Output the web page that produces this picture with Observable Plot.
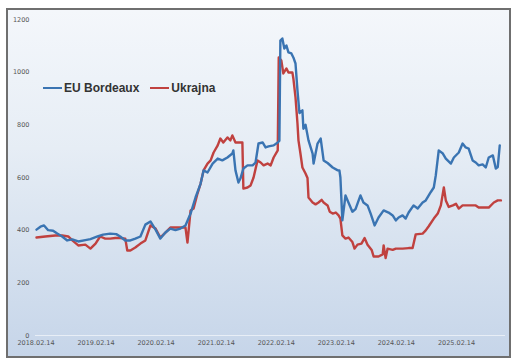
<!DOCTYPE html>
<html>
<head>
<meta charset="utf-8">
<script src="https://cdn.jsdelivr.net/npm/d3@7"></script>
<script src="https://cdn.jsdelivr.net/npm/@observablehq/plot@0.6"></script>
<style>
  body { margin: 0; background: #fff; }
  #wrap { position: relative; width: 515px; height: 363px; }
  #box { position: absolute; left: 6px; top: 8px; width: 501px; height: 346px;
         border: 2px solid #6f6f6f;
         background: linear-gradient(to bottom, #f4f7fb 0%, #e6edf5 40%, #d3dfee 75%, #c6d5e9 100%); }
  #chart { position: absolute; left: 0; top: 0; }
  #legend { position: absolute; left: 43px; top: 81px; font: bold 12px "Liberation Sans", Arial, sans-serif; color: #333; display: flex; align-items: center; }
  #legend .sw { display: inline-block; width: 19px; height: 2.5px; margin-right: 2px; }
  #legend .item { display: flex; align-items: center; margin-right: 11px; }
</style>
</head>
<body>
<div id="wrap">
  <div id="box"></div>
  <div id="chart"></div>
  <div id="legend"></div>
</div>
<script>
const seriesNames = ["EU Bordeaux", "Ukrajna"];
const seriesColors = ["#3a74b2", "#c0413f"];

const euDates = ["2018-02-17","2018-03-13","2018-04-04","2018-04-29","2018-05-29","2018-06-23","2018-07-23","2018-08-23","2018-09-23","2018-10-29","2018-12-11","2019-01-11","2019-02-23","2019-03-29","2019-05-11","2019-06-17","2019-07-11","2019-08-11","2019-09-11","2019-10-11","2019-11-11","2019-12-11","2020-01-11","2020-02-11","2020-03-11","2020-04-11","2020-05-11","2020-06-11","2020-07-11","2020-08-11","2020-09-11","2020-10-11","2020-11-11","2020-11-29","2020-12-23","2021-01-23","2021-02-23","2021-03-23","2021-04-23","2021-05-23","2021-05-29","2021-06-11","2021-06-29","2021-07-11","2021-07-29","2021-08-23","2021-09-23","2021-10-11","2021-10-29","2021-11-23","2021-12-11","2021-12-29","2022-01-29","2022-02-23","2022-03-05","2022-03-11","2022-03-23","2022-04-04","2022-04-17","2022-04-29","2022-05-17","2022-05-29","2022-06-11","2022-06-23","2022-07-05","2022-07-23","2022-07-29","2022-08-11","2022-08-29","2022-09-23","2022-09-29","2022-10-23","2022-11-11","2022-11-29","2022-12-23","2023-01-23","2023-02-23","2023-03-05","2023-03-11","2023-03-23","2023-04-11","2023-04-29","2023-05-23","2023-06-11","2023-07-11","2023-07-29","2023-08-23","2023-09-11","2023-10-05","2023-10-29","2023-11-29","2023-12-29","2024-01-23","2024-02-11","2024-02-28","2024-03-23","2024-04-11","2024-04-29","2024-05-29","2024-06-23","2024-07-23","2024-08-11","2024-09-11","2024-09-29","2024-10-11","2024-10-29","2024-11-23","2024-12-11","2025-01-11","2025-01-29","2025-02-28","2025-03-23","2025-04-11","2025-04-29","2025-05-23","2025-06-11","2025-06-29","2025-07-23","2025-08-11","2025-08-29","2025-09-23","2025-10-11","2025-10-23","2025-11-04"];
const euValues = [402,413,418,400,398,387,376,361,365,357,362,366,376,383,387,385,376,361,361,368,376,421,433,402,368,391,406,400,406,418,463,524,577,627,619,653,672,665,676,691,703,627,581,596,634,646,646,657,729,733,714,718,722,733,740,1120,1128,1090,1101,1075,1071,1056,1033,930,845,855,785,800,741,691,653,729,748,665,655,638,627,627,600,437,532,505,470,480,532,505,494,463,418,448,475,467,456,437,448,456,444,467,494,482,505,513,545,562,608,703,691,672,653,676,695,729,714,710,665,657,646,650,638,676,684,634,640,722];

const uaDates = ["2018-02-17","2018-04-11","2018-06-11","2018-07-23","2018-08-29","2018-09-23","2018-10-29","2018-12-11","2019-01-11","2019-02-11","2019-03-11","2019-04-11","2019-05-11","2019-06-11","2019-07-11","2019-08-11","2019-08-23","2019-09-11","2019-10-11","2019-11-11","2019-12-11","2020-01-11","2020-02-11","2020-03-11","2020-04-11","2020-05-11","2020-06-11","2020-07-11","2020-08-11","2020-08-23","2020-09-11","2020-09-29","2020-10-23","2020-11-11","2020-11-29","2020-12-23","2021-01-11","2021-01-29","2021-02-23","2021-03-11","2021-03-29","2021-04-23","2021-05-11","2021-05-23","2021-06-11","2021-06-29","2021-07-23","2021-07-29","2021-08-23","2021-09-11","2021-09-29","2021-10-23","2021-11-11","2021-11-29","2021-12-23","2022-01-11","2022-01-29","2022-02-23","2022-03-01","2022-03-17","2022-03-29","2022-04-17","2022-04-29","2022-05-23","2022-05-29","2022-06-11","2022-06-23","2022-06-29","2022-07-11","2022-07-23","2022-08-11","2022-08-23","2022-08-29","2022-09-23","2022-10-11","2022-10-29","2022-11-17","2022-11-29","2022-12-23","2023-01-05","2023-01-23","2023-02-11","2023-02-28","2023-03-11","2023-03-23","2023-04-11","2023-04-29","2023-05-23","2023-06-05","2023-06-23","2023-07-17","2023-08-05","2023-08-23","2023-09-17","2023-09-29","2023-10-29","2023-11-23","2023-11-29","2023-12-11","2023-12-23","2024-01-23","2024-02-11","2024-03-23","2024-04-29","2024-05-23","2024-06-11","2024-07-23","2024-08-11","2024-08-29","2024-09-29","2024-10-23","2024-11-11","2024-11-29","2024-12-11","2024-12-29","2025-01-23","2025-02-11","2025-02-28","2025-03-23","2025-04-29","2025-06-11","2025-06-29","2025-08-29","2025-09-29","2025-10-23","2025-11-11"];
const uaValues = [372,376,380,380,376,361,342,345,330,349,376,368,368,370,370,368,323,323,334,349,361,418,406,372,391,410,410,410,410,353,475,482,539,577,627,653,665,695,722,748,733,752,741,760,733,733,733,558,562,570,600,665,657,646,653,646,676,703,1056,1044,995,1014,999,999,976,904,805,741,691,638,615,598,524,505,498,505,515,505,494,470,463,467,456,444,380,368,372,355,330,345,349,370,345,325,300,300,308,342,294,330,325,330,330,332,332,384,387,399,415,444,463,494,562,513,488,494,500,482,494,494,494,486,486,505,513,513];

const yTicks = [0, 200, 400, 600, 800, 1000, 1200];
const xTicks = ["2018-02-14","2019-02-14","2020-02-14","2021-02-14","2022-02-14","2023-02-14","2024-02-14","2025-02-14"];

const parse = d3.utcParse("%Y-%m-%d");
const rows = [
  ...euDates.map((d, i) => ({date: parse(d), value: euValues[i], series: seriesNames[0]})),
  ...uaDates.map((d, i) => ({date: parse(d), value: uaValues[i], series: seriesNames[1]}))
];

const chart = Plot.plot({
  width: 515,
  height: 363,
  marginLeft: 35,
  marginRight: 10,
  marginTop: 19,
  marginBottom: 28,
  style: {background: "transparent", fontFamily: "'DejaVu Sans', sans-serif", color: "#555"},
  x: {type: "utc", domain: [parse(xTicks[0]), parse(xTicks[7])], range: [35.5, 456]},
  y: {domain: [0, 1200]},
  color: {domain: seriesNames, range: seriesColors},
  marks: [
    Plot.ruleY([0], {stroke: "#e8eef6", strokeWidth: 1}),
    Plot.axisY({ticks: yTicks, tickSize: 0, tickPadding: 6, fontSize: 6.5, label: null, fill: "#555", tickFormat: d3.format("d")}),
    Plot.axisX({ticks: xTicks.map(parse), tickSize: 0, tickPadding: 5, fontSize: 6.5, label: null, fill: "#555",
      tickFormat: d3.utcFormat("%Y.%m.%d")}),
    Plot.line(rows.filter(r => r.series === seriesNames[1]), {x: "date", y: "value", stroke: "series", strokeWidth: 2.4, curve: "linear"}),
    Plot.line(rows.filter(r => r.series === seriesNames[0]), {x: "date", y: "value", stroke: "series", strokeWidth: 2.4, curve: "linear"})
  ]
});
document.getElementById("chart").appendChild(chart);

const legend = document.getElementById("legend");
seriesNames.forEach((n, i) => {
  const item = document.createElement("span");
  item.className = "item";
  const sw = document.createElement("span");
  sw.className = "sw";
  sw.style.background = seriesColors[i];
  item.appendChild(sw);
  item.appendChild(document.createTextNode(n));
  legend.appendChild(item);
});
</script>
</body>
</html>
